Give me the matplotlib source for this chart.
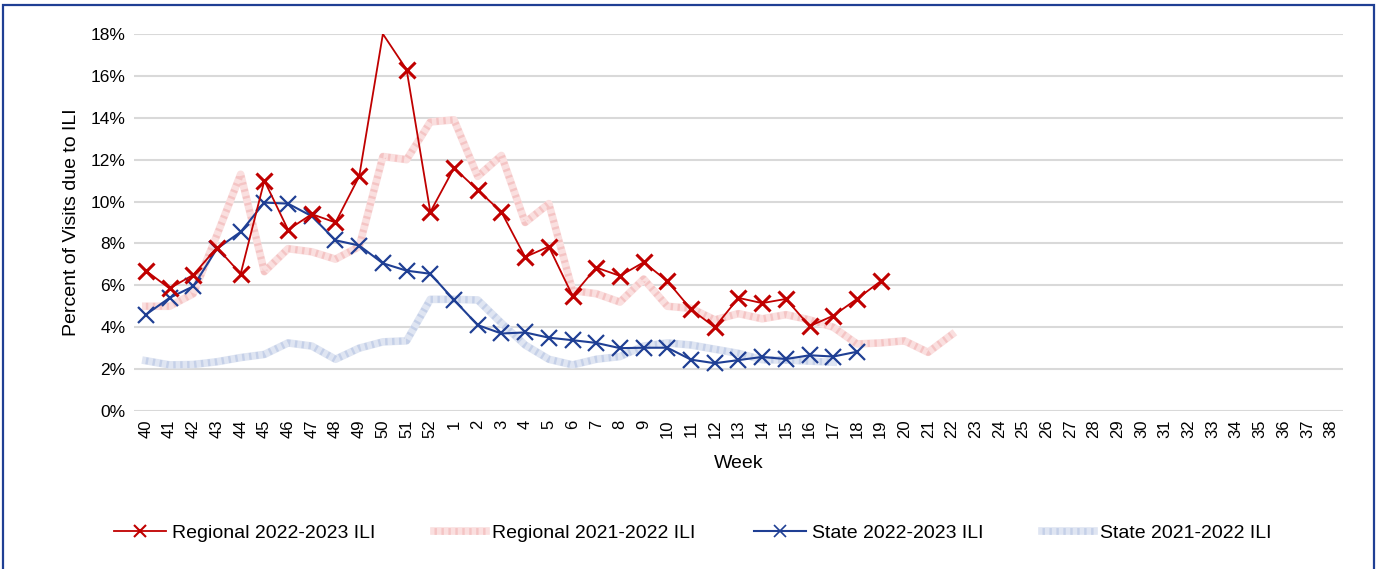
import matplotlib.pyplot as plt
import matplotlib.lines as mlines
from matplotlib.patches import Rectangle

weeks = [str(w) for w in range(40, 53)] + [str(w) for w in range(1, 39)]

# percent of visits due to ILI, by week (starting at week 40)
regional_2223 = [6.7, 5.85, 6.5, 7.8, 6.55, 11.0, 8.65, 9.4, 9.0, 11.2, 18.0, 16.3, 9.5,
                 11.6, 10.55, 9.5, 7.35, 7.85, 5.5, 6.85, 6.45, 7.1, 6.2, 4.85, 4.0,
                 5.4, 5.15, 5.35, 4.05, 4.55, 5.35, 6.2]
regional_2122 = [5.0, 5.0, 5.6, 8.4, 11.3, 6.65, 7.75, 7.6, 7.25, 7.85, 12.15, 12.0, 13.8,
                 13.9, 11.2, 12.2, 9.0, 9.9, 5.75, 5.6, 5.2, 6.3, 5.0, 4.9, 4.35,
                 4.65, 4.4, 4.6, 4.35, 4.0, 3.2, 3.25, 3.35, 2.8, 3.65]
state_2223 = [4.6, 5.4, 5.95, 7.75, 8.55, 9.95, 9.9, 9.3, 8.15, 7.9, 7.05, 6.7, 6.55,
              5.3, 4.1, 3.7, 3.75, 3.5, 3.38, 3.25, 3.0, 3.02, 3.02, 2.45, 2.28,
              2.43, 2.58, 2.48, 2.66, 2.6, 2.83]
state_2122 = [2.4, 2.2, 2.22, 2.35, 2.55, 2.7, 3.25, 3.1, 2.47, 3.0, 3.3, 3.35, 5.33,
              5.33, 5.3, 4.2, 3.15, 2.47, 2.2, 2.47, 2.6, 3.1, 3.25, 3.15, 2.95,
              2.75, 2.45, 2.43, 2.38, 2.33]

RED = '#C00000'
BLUE = '#1F3F94'
PINK = ('#FADFDF', '#EEA5A5')
LBLUE = ('#DFE5F2', '#A7B8DC')
DOTS = (0, (0.35, 0.65))

plt.rcParams['font.family'] = ['Liberation Sans', 'DejaVu Sans']

fig = plt.figure(figsize=(13.77, 5.69), dpi=100)
ax = fig.add_axes([0.0973, 0.2777, 0.878, 0.6626])

x = list(range(len(weeks)))

def hatched(vals, cols):
    xs = x[:len(vals)]
    ax.plot(xs, vals, color=cols[0], lw=5.5, solid_joinstyle='round', zorder=2)
    ax.plot(xs, vals, color=cols[1], lw=5, ls=DOTS, alpha=0.45, zorder=2)

hatched(regional_2122, PINK)
hatched(state_2122, LBLUE)

ax.plot(x[:len(regional_2223)], regional_2223, color=RED, lw=1.3, marker='x',
        ms=12, mew=2.2, markevery=[i for i in range(len(regional_2223)) if i != 10],
        zorder=4)
ax.plot(x[:len(state_2223)], state_2223, color=BLUE, lw=1.5, marker='x',
        ms=11, mew=1.6, zorder=3)

ax.set_xlim(-0.5, len(weeks) - 0.5)
ax.set_ylim(0, 18)
ax.set_xticks(x)
ax.set_xticklabels(weeks, rotation=90, fontsize=12)
ax.set_yticks(range(0, 19, 2))
ax.set_yticklabels([f'{v}%' for v in range(0, 19, 2)], fontsize=12.5)
ax.tick_params(length=0, pad=6)
ax.grid(axis='y', color='#D9D9D9', lw=1.5)
ax.set_axisbelow(True)
for s in ax.spines.values():
    s.set_visible(False)
ax.set_xlabel('Week', fontsize=14, labelpad=12)
ax.set_ylabel('Percent of Visits due to ILI', fontsize=14, labelpad=8)

def hatch_handle(cols):
    return (mlines.Line2D([], [], color=cols[0], lw=5.5),
            mlines.Line2D([], [], color=cols[1], lw=5, ls=DOTS, alpha=0.45))

handles = [mlines.Line2D([], [], color=RED, lw=1.3, marker='x', ms=9, mew=1.5),
           hatch_handle(PINK),
           mlines.Line2D([], [], color=BLUE, lw=1.5, marker='x', ms=9, mew=1.2),
           hatch_handle(LBLUE)]
fig.legend(handles,
           ['Regional 2022-2023 ILI', 'Regional 2021-2022 ILI',
            'State 2022-2023 ILI', 'State 2021-2022 ILI'],
           loc='center', bbox_to_anchor=(0.503, 0.063), ncol=4, frameon=False,
           fontsize=14, handlelength=2.7, columnspacing=3.0, handletextpad=0.3)

fig.patches.append(Rectangle((3 / 1377, -0.02), 1 - 6 / 1377, 1 - 5 / 569 + 0.02,
                             transform=fig.transFigure, fill=False,
                             edgecolor=BLUE, lw=1.6))

fig.savefig('out.png', dpi=100)
